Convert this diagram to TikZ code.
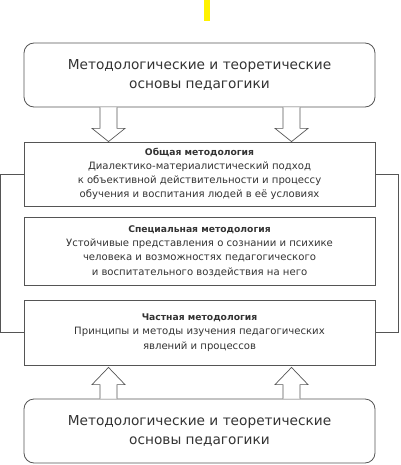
\documentclass[tikz,border=0pt]{standalone}
\usepackage{fontspec}
\setmainfont{DejaVu Sans}
\usetikzlibrary{calc}
\definecolor{txt}{HTML}{333333}
\definecolor{ln}{HTML}{555555}
\newcommand{\ttl}[1]{{\fontsize{9.2}{14.2}\selectfont\bfseries #1}}
\begin{document}
\begin{tikzpicture}[x=1pt,y=-1pt,
  bigbox/.style={draw=ln, line width=0.8pt, rounded corners=10pt, minimum width=351pt, minimum height=64pt, align=center, text=txt, font=\fontsize{13.7}{18.5}\selectfont, inner sep=0pt},
  methbox/.style={draw=ln, line width=0.8pt, minimum width=351pt, align=center, text=txt, font=\fontsize{10.1}{14.2}\selectfont, inner sep=0pt},
  blockarrow/.style={draw=ln, line width=0.7pt, fill=white, line join=miter},
  bracket/.style={draw=ln, line width=0.8pt}]
\useasboundingbox (0,0) rectangle (400,465);
\fill[yellow] (204,0) rectangle (210,21);
\node[bigbox] (top) at (199.5,75) {Методологические и теоретические\\основы педагогики};
\node[methbox, minimum height=64pt] (b1) at (199.5,174) {\ttl{Общая методология}\\Диалектико-материалистический подход\\к объективной действительности и процессу\\обучения и воспитания людей в её условиях};
\node[methbox, minimum height=68pt] (b2) at (199.5,251) {\ttl{Специальная методология}\\Устойчивые представления о сознании и психике\\человека и возможностях педагогического\\и воспитательного воздействия на него};
\node[methbox, minimum height=65pt] (b3) at (199.5,332.5) {\ttl{Частная методология}\\Принципы и методы изучения педагогических\\явлений и процессов};
\node[bigbox] (bot) at (199.5,431) {Методологические и теоретические\\основы педагогики};
% down arrows
\foreach \dx/\nm in {-91/dl, 92/dr}{
  \coordinate (\nm s) at ($(top.south)+(\dx,0)$);
  \coordinate (\nm t) at ($(b1.north)+(\dx,0)$);
  \draw[blockarrow] ($(\nm s)+(-8.5,0)$) -- ($(\nm s)+(-8.5,21)$) -- ($(\nm s)+(-16.5,21)$) -- (\nm t) -- ($(\nm s)+(16.5,21)$) -- ($(\nm s)+(8.5,21)$) -- ($(\nm s)+(8.5,0)$);
}
% up arrows
\foreach \dx/\nm in {-91/ul, 92/ur}{
  \coordinate (\nm s) at ($(bot.north)+(\dx,0)$);
  \coordinate (\nm t) at ($(b3.south)+(\dx,2)$);
  \draw[blockarrow] ($(\nm s)+(-8.5,0)$) -- ($(\nm s)+(-8.5,-14)$) -- ($(\nm s)+(-16.5,-14)$) -- (\nm t) -- ($(\nm s)+(16.5,-14)$) -- ($(\nm s)+(8.5,-14)$) -- ($(\nm s)+(8.5,0)$);
}
% brackets
\draw[bracket] (b1.west) -- ++(-23,0) |- (b3.west);
\draw[bracket] (b1.east) -- ++(23,0) |- (b3.east);
\end{tikzpicture}
\end{document}
